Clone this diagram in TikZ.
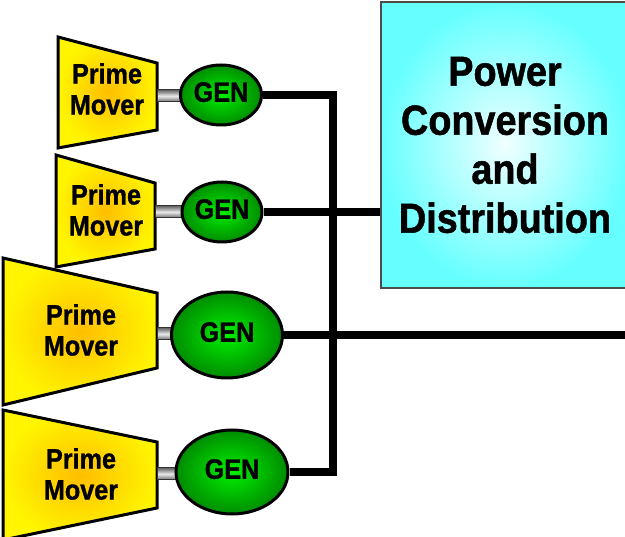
\documentclass[tikz,border=0pt]{standalone}
\usepackage{fontspec}
\newfontfamily\diagfont{Liberation Sans}[FakeStretch=0.9, FakeBold=1.2]
\usetikzlibrary{shapes.geometric}
\definecolor{moverout}{RGB}{255,245,0}
\definecolor{moverin}{RGB}{255,190,0}
\definecolor{genout}{RGB}{0,140,0}
\definecolor{genin}{RGB}{0,240,0}
\definecolor{pcdout}{RGB}{102,255,255}
\definecolor{pcdin}{RGB}{240,255,255}

\begin{document}
\begin{tikzpicture}[x=1pt,y=-1pt]
		\tikzstyle{mover} = [draw=black, line width=3pt, line join=miter, inner color=moverin, outer color=moverout]
		\tikzstyle{movertext} = [align=center, inner sep=0, font=\diagfont\bfseries\fontsize{28}{31}\selectfont]
		\tikzstyle{gen} = [shape=ellipse, draw=black, line width=3pt, inner color=genin, outer color=genout, inner sep=0, text depth=6pt, font=\diagfont\bfseries\fontsize{28}{28}\selectfont]
		\tikzstyle{shaft} = [rectangle, draw=black!80, line width=1pt, top color=black!60, bottom color=black!60, middle color=black!8, inner sep=0, minimum height=12pt]
		\tikzstyle{pcdbox} = [rectangle, draw=black!70, line width=1.5pt, inner color=pcdin, outer color=pcdout, align=center, minimum width=248pt, minimum height=286pt, font=\diagfont\bfseries\fontsize{42}{49}\selectfont]
		\tikzstyle{bus} = [draw, black, line width=8pt]
		\useasboundingbox (0,0) rectangle (625,537);
		\clip (0,0) rectangle (625,537);
		% prime movers
		\path [mover] (58,37) -- (157,63) -- (157,130) -- (58,148) -- cycle;
		\path [mover] (56,155) -- (155,183) -- (155,249) -- (56,267) -- cycle;
		\path [mover] (3,258) -- (157,293) -- (157,368) -- (3,405) -- cycle;
		\path [mover] (3,410) -- (157,442) -- (157,508) -- (3,540) -- cycle;
		\node [movertext] (pm1) at (107,89) {Prime\\Mover};
		\node [movertext] (pm2) at (106,210) {Prime\\Mover};
		\node [movertext] (pm3) at (81,330) {Prime\\Mover};
		\node [movertext] (pm4) at (81,474) {Prime\\Mover};
		% shafts
		\node [shaft, minimum width=26pt] (sh1) at (170,96) {};
		\node [shaft, minimum width=28pt] (sh2) at (169,212) {};
		\node [shaft, minimum width=16pt] (sh3) at (165,334) {};
		\node [shaft, minimum width=20pt] (sh4) at (167,474) {};
		% generators
		\node [gen, minimum width=81pt, minimum height=60pt] (gen1) at (221,95) {GEN};
		\node [gen, minimum width=80pt, minimum height=60pt] (gen2) at (222,212) {GEN};
		\node [gen, minimum width=111pt, minimum height=86pt] (gen3) at (227,335) {GEN};
		\node [gen, minimum width=112pt, minimum height=84pt] (gen4) at (232,472) {GEN};
		% power conversion
		\node [pcdbox] (pcd) at (505,145) {Power\\Conversion\\and\\Distribution};
		% bus
		\coordinate (b1) at (333,95);
		\coordinate (b4) at (333,472);
		\coordinate (feed) at (630,335);
		\draw [bus] (gen1) -- (b1) -- (b4) -- (gen4);
		\draw [bus] (gen2) -- (gen2 -| pcd.west);
		\draw [bus] (gen3) -- (feed);
\end{tikzpicture}
\end{document}
